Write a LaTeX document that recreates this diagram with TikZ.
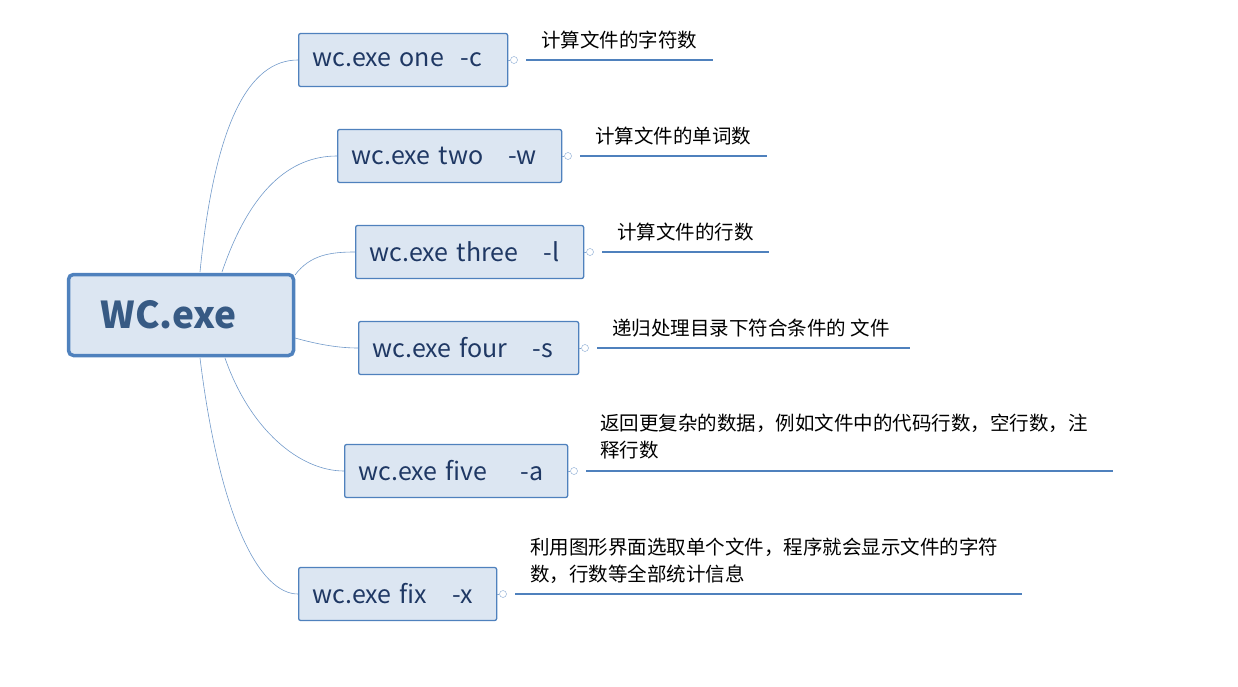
\documentclass[tikz,border=0pt]{standalone}
\usepackage{fontspec}
\setmainfont{Noto Sans CJK SC}
\usetikzlibrary{positioning}
\definecolor{boxfill}{RGB}{220,230,242}
\definecolor{boxline}{RGB}{79,129,189}
\definecolor{boxtext}{RGB}{31,56,100}
\tikzset{
  rootbox/.style={draw=boxline, line width=3.5pt, fill=boxfill, rounded corners=5pt, minimum width=225pt, minimum height=81pt, text=boxline!70!black, font=\fontsize{37}{42}\selectfont\bfseries},
  cmdbox/.style={draw=boxline, line width=1.3pt, fill=boxfill, rounded corners=2pt, minimum height=53pt, inner xsep=14pt, text width=#1-28pt, align=left, text=boxtext, font=\fontsize{25}{28}\selectfont, anchor=west},
  knob/.style={circle, draw=boxline!70, fill=white, inner sep=0pt, minimum size=7pt},
  branch/.style={draw=boxline!80, line width=0.6pt},
  underline/.style={draw=boxline, line width=2.2pt},
  note/.style={font=\fontsize{19.5}{27}\selectfont, anchor=north west, align=left, inner sep=0pt}
}
\begin{document}
\begin{tikzpicture}[x=1pt,y=-1pt]
\useasboundingbox (0,0) rectangle (1238,687);
\node[rootbox] (root) at (181,315) {\hspace*{-25pt}WC.exe};
\node[cmdbox=209pt] (c1) at (298,60) {wc.exe one\ \ -c};
\node[cmdbox=224pt] (c2) at (337,156) {wc.exe two\ \ \ -w};
\node[cmdbox=228pt] (c3) at (355,252) {wc.exe three\ \ \ -l};
\node[cmdbox=220pt] (c4) at (358,348) {wc.exe four\ \ \ -s};
\node[cmdbox=223pt] (c5) at (344,471) {wc.exe five\ \ \ \ -a};
\node[cmdbox=198pt] (c6) at (298,594) {wc.exe fix\ \ \ -x};
% knobs and underlines
\foreach \i/\a/\b in {1/514/713, 2/568/767, 3/590/769, 4/585/910, 5/574/1113, 6/503/1022}{
  \node[knob] (k\i) at (\a, 0 |- c\i.east) {};
  \coordinate (e\i) at (\b, 0 |- c\i.east);
  \draw[underline] ([xshift=12pt]k\i.center) -- (e\i);
  \draw[boxline!70, line width=0.6pt] (c\i.east) -- (k\i);
}
\node[note] (n1) at (541,31) {计算文件的字符数};
\node[note] (n2) at (595,127) {计算文件的单词数};
\node[note] (n3) at (617,223) {计算文件的行数};
\node[note] (n4) at (612,319) {递归处理目录下符合条件的 文件};
\node[note] (n5) at (600,414) {返回更复杂的数据，例如文件中的代码行数，空行数，注\\释行数};
\node[note] (n6) at (530,538) {利用图形界面选取单个文件，程序就会显示文件的字符\\数，行数等全部统计信息};
% branches
\draw[branch] (200,272) .. controls (215,120) and (250,60) .. (c1.west);
\draw[branch] (222,272) .. controls (250,190) and (290,156) .. (c2.west);
\draw[branch] (295,275) .. controls (310,255) and (330,252) .. (c3.west);
\draw[branch] (295,338) .. controls (320,345) and (340,348) .. (c4.west);
\draw[branch] (225,358) .. controls (250,430) and (300,471) .. (c5.west);
\draw[branch] (200,358) .. controls (220,520) and (260,594) .. (c6.west);
\end{tikzpicture}
\end{document}
